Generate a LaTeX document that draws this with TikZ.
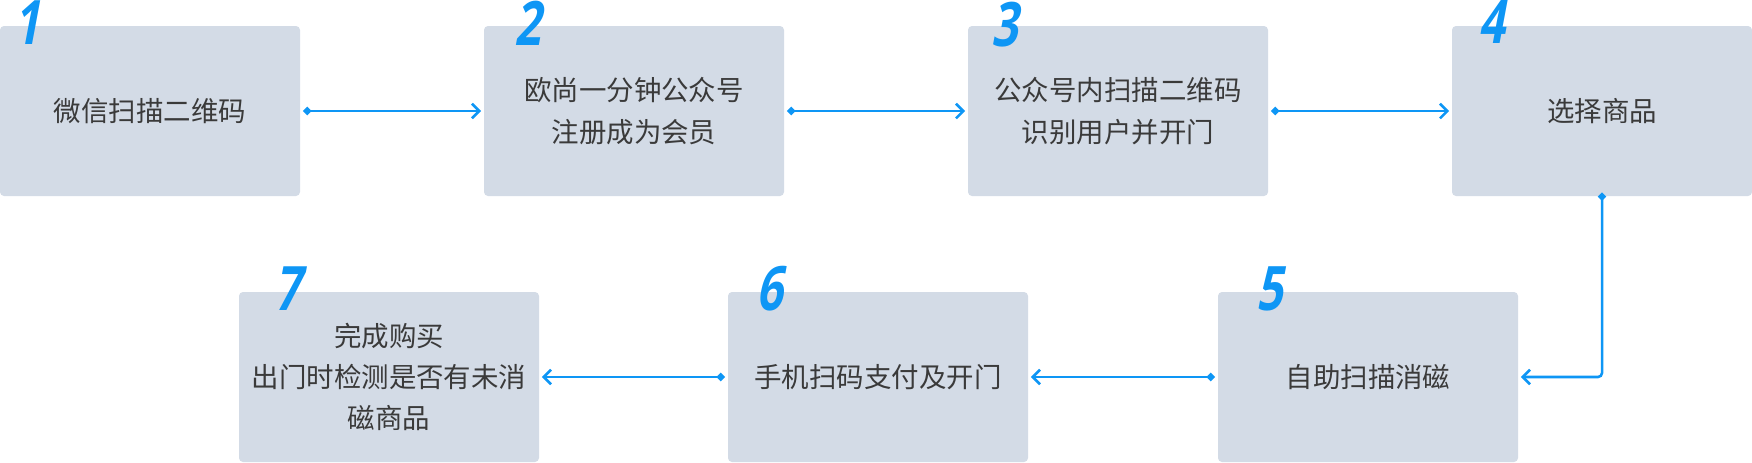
\documentclass[tikz,border=0pt]{standalone}
\usepackage{fontspec}
\usepackage{tikz}
\usetikzlibrary{arrows.meta}
\newfontfamily\cjk{Noto Sans CJK SC}
\newfontfamily\numfont[FakeSlant=0.25]{Open Sans}
\definecolor{boxfill}{HTML}{D3DBE6}
\definecolor{linkblue}{HTML}{0E96F5}
\definecolor{txtgray}{HTML}{3A3A3A}

\begin{document}
\begin{tikzpicture}[x=0.75pt,y=0.75pt,yscale=-1,xscale=1,
  stepbox/.style={fill=boxfill,draw=none,rounded corners=3pt,minimum width=225pt,minimum height=127.5pt,
    inner sep=0pt,align=center,text=txtgray,font=\cjk\fontsize{20.6pt}{31pt}\selectfont},
  num/.style={inner sep=0pt,text=linkblue,font=\numfont\bfseries\fontsize{46pt}{46pt}\selectfont},
  link/.style={draw=linkblue,line width=1.9pt,{Diamond[length=6.5pt,width=6.5pt]}-{Straight Barb[length=5.5pt,width=11pt,line width=1.9pt]}}]
\useasboundingbox (0,0) rectangle (1752,462);

%Shape: Rectangle top row
\node[stepbox] (b1) at (150,111) {微信扫描二维码};
\node[stepbox] (b2) at (634,111) {欧尚一分钟公众号\\注册成为会员};
\node[stepbox] (b3) at (1118,111) {公众号内扫描二维码\\识别用户并开门};
\node[stepbox] (b4) at (1602,111) {选择商品};
%Shape: Rectangle bottom row
\node[stepbox] (b5) at (1368,377) {自助扫描消磁};
\node[stepbox] (b6) at (878,377) {手机扫码支付及开门};
\node[stepbox] (b7) at (389,377) {完成购买\\出门时检测是否有未消\\磁商品};

% Text Node
\node[num] (n1) at (27,23) {\scalebox{0.75}[1]{1}};
\node[num] (n2) at (528,23) {\scalebox{0.75}[1]{2}};
\node[num] (n3) at (1005,25) {\scalebox{0.75}[1]{3}};
\node[num] (n4) at (1492,22) {\scalebox{0.75}[1]{4}};
\node[num] (n5) at (1270,289) {\scalebox{0.75}[1]{5}};
\node[num] (n6) at (770,289) {\scalebox{0.75}[1]{6}};
\node[num] (n7) at (288,289) {\scalebox{0.75}[1]{7}};

%Straight Lines
\draw[link] ([xshift=2pt]b1.east) -- ([xshift=-2pt]b2.west);
\draw[link] ([xshift=2pt]b2.east) -- ([xshift=-2pt]b3.west);
\draw[link] ([xshift=2pt]b3.east) -- ([xshift=-2pt]b4.west);
\draw[link,rounded corners=3pt] ([yshift=-3pt]b4.south) |- ([xshift=2pt]b5.east);
\draw[link] ([xshift=-2pt]b5.west) -- ([xshift=2pt]b6.east);
\draw[link] ([xshift=-2pt]b6.west) -- ([xshift=2pt]b7.east);

\end{tikzpicture}
\end{document}
